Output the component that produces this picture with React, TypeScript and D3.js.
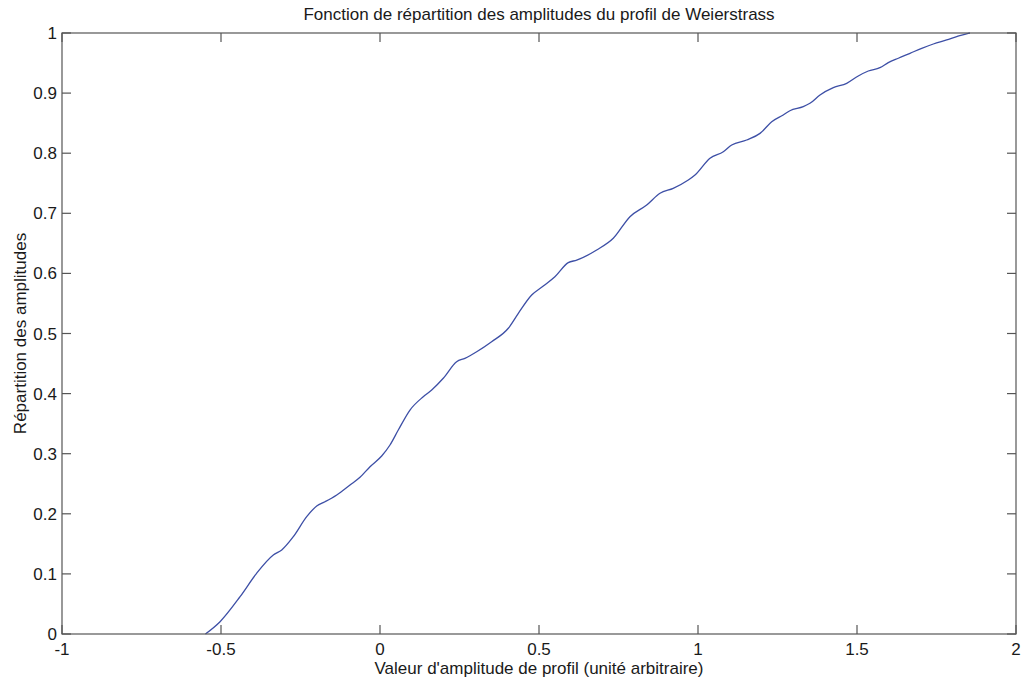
import React from "react";
import * as d3 from "d3";

const ampX: number[] = [
  -0.549, -0.503, -0.44, -0.388, -0.3355, -0.309, -0.2726, -0.2305, -0.199, -0.173,
  -0.136, -0.0943, -0.0629, -0.0314, 0.0053, 0.0314, 0.0575, 0.0943, 0.136, 0.1626,
  0.199, 0.241, 0.267, 0.304, 0.351, 0.4035, 0.435, 0.477, 0.5135, 0.55,
  0.592, 0.6186, 0.6814, 0.7336, 0.786, 0.8387, 0.8805, 0.922, 0.9695, 0.9906,
  1.0377, 1.0796, 1.106, 1.153, 1.195, 1.2318, 1.268, 1.289, 1.331, 1.352,
  1.3836, 1.4255, 1.4676, 1.504, 1.5355, 1.572, 1.5984, 1.63, 1.6667, 1.7035,
  1.74, 1.782, 1.8135, 1.85, 1.855,
];
const cdfY: number[] = [
  0, 0.0205, 0.0621, 0.101, 0.1314, 0.1398, 0.1619, 0.1952, 0.213, 0.22,
  0.2313, 0.2479, 0.2607, 0.2784, 0.2962, 0.3145, 0.3394, 0.3727, 0.3948, 0.406,
  0.4255, 0.453, 0.4587, 0.4697, 0.4864, 0.5087, 0.5336, 0.564, 0.579, 0.5945,
  0.618, 0.622, 0.639, 0.6584, 0.6944, 0.7138, 0.7333, 0.7416, 0.7554, 0.7637,
  0.7915, 0.8025, 0.8136, 0.822, 0.833, 0.8524, 0.8636, 0.8707, 0.8774, 0.883,
  0.8968, 0.909, 0.9163, 0.9285, 0.9368, 0.9423, 0.9506, 0.958, 0.9662, 0.9745,
  0.9817, 0.9884, 0.9938, 0.9995, 1.0,
];
const xTicks: number[] = [-1, -0.5, 0, 0.5, 1, 1.5, 2];
const xTickLabels: string[] = ["-1", "-0.5", "0", "0.5", "1", "1.5", "2"];
const yTicks: number[] = [0, 0.1, 0.2, 0.3, 0.4, 0.5, 0.6, 0.7, 0.8, 0.9, 1];
const yTickLabels: string[] = ["0", "0.1", "0.2", "0.3", "0.4", "0.5", "0.6", "0.7", "0.8", "0.9", "1"];

const title = "Fonction de répartition des amplitudes du profil de Weierstrass";
const xLabel = "Valeur d'amplitude de profil (unité arbitraire)";
const yLabel = "Répartition des amplitudes";

export default function App() {
  const W = 1021, H = 683;
  const left = 62, right = 1016, top = 33, bottom = 634;
  const x = d3.scaleLinear().domain([-1, 2]).range([left, right]);
  const y = d3.scaleLinear().domain([0, 1]).range([bottom, top]);
  const pts: [number, number][] = ampX.map((v, i) => [v, cdfY[i]]);
  const line = d3.line<[number, number]>()
    .x((d) => x(d[0]))
    .y((d) => y(d[1]))
    .curve(d3.curveMonotoneX);
  const axisColor = "#555";
  const tickLen = 9;
  const font = "'Liberation Sans', Arial, Helvetica, sans-serif";
  const textColor = "#1a1a1a";
  const fs = 17;
  return (
    <svg width={W} height={H} style={{ position: "absolute", left: 0, top: 0, background: "#fff" }} fontFamily={font}>
      <rect x={0} y={0} width={W} height={H} fill="#fff" />
      <path d={line(pts) ?? ""} fill="none" stroke="#3d4fa6" strokeWidth={1.3} />
      <rect x={left} y={top} width={right - left} height={bottom - top} fill="none" stroke={axisColor} strokeWidth={1.2} />
      {xTicks.map((t, i) => (
        <g key={"xt" + i}>
          <line x1={x(t)} x2={x(t)} y1={bottom} y2={bottom - tickLen} stroke={axisColor} strokeWidth={1.2} />
          <line x1={x(t)} x2={x(t)} y1={top} y2={top + tickLen} stroke={axisColor} strokeWidth={1.2} />
          <text x={x(t)} y={655} textAnchor="middle" fontSize={fs} fill={textColor}>{xTickLabels[i]}</text>
        </g>
      ))}
      {yTicks.map((t, i) => (
        <g key={"yt" + i}>
          <line x1={left} x2={left + tickLen} y1={y(t)} y2={y(t)} stroke={axisColor} strokeWidth={1.2} />
          <line x1={right} x2={right - tickLen} y1={y(t)} y2={y(t)} stroke={axisColor} strokeWidth={1.2} />
          <text x={57} y={y(t) + 6} textAnchor="end" fontSize={fs} fill={textColor}>{yTickLabels[i]}</text>
        </g>
      ))}
      <text x={(left + right) / 2} y={19.5} textAnchor="middle" fontSize={fs} fill={textColor}>{title}</text>
      <text x={(left + right) / 2} y={674} textAnchor="middle" fontSize={fs} fill={textColor}>{xLabel}</text>
      <text transform={`translate(26, ${(top + bottom) / 2}) rotate(-90)`} textAnchor="middle" fontSize={fs} fill={textColor}>{yLabel}</text>
    </svg>
  );
}
